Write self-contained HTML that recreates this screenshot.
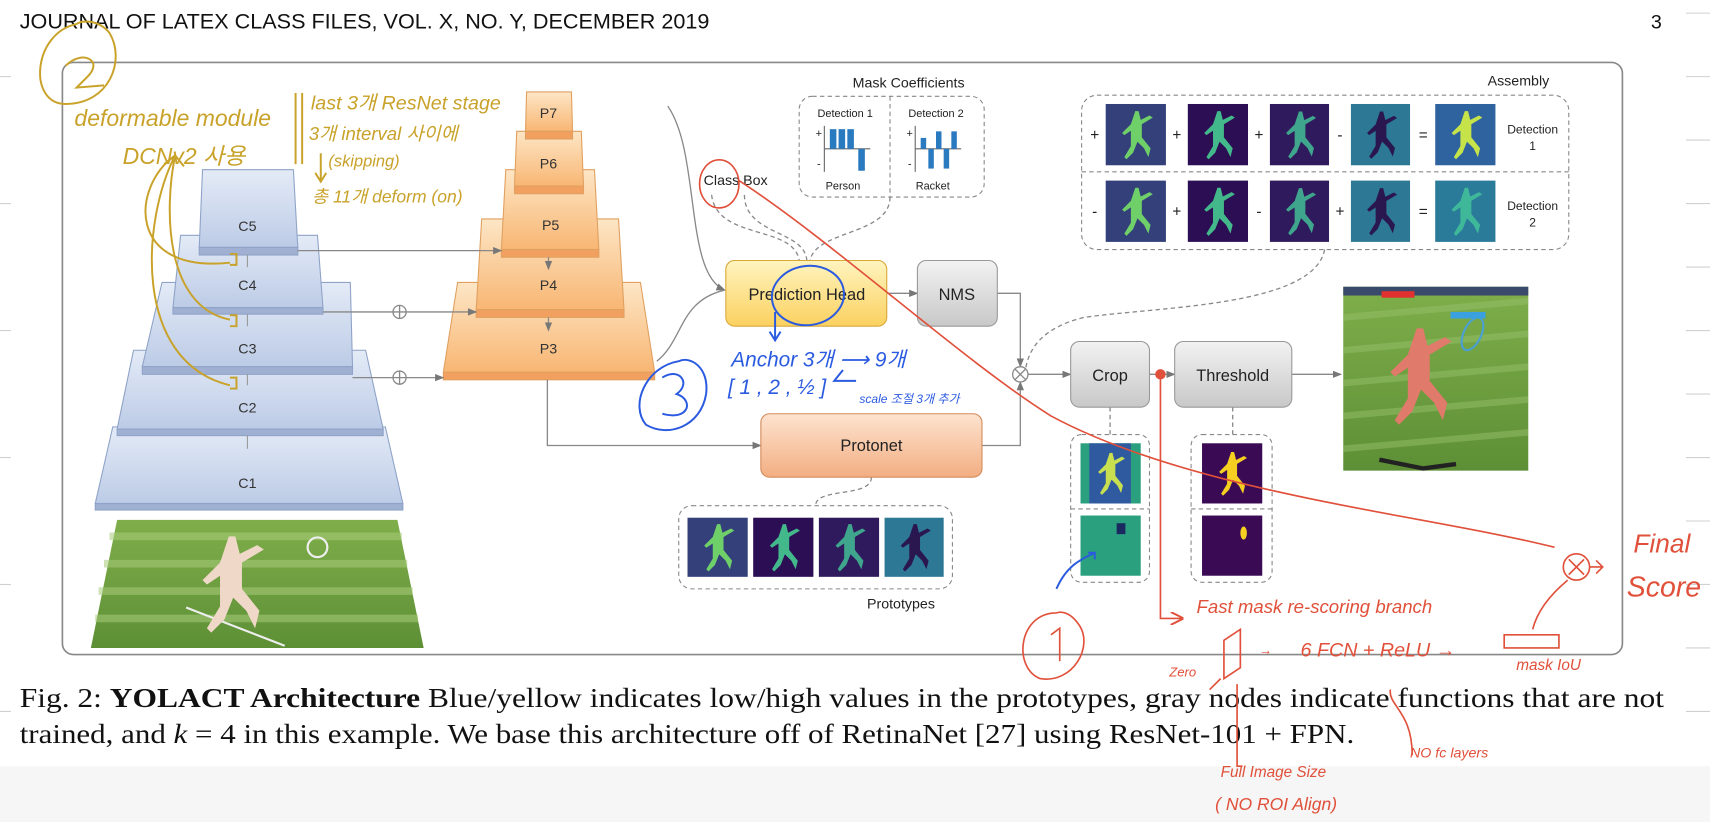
<!DOCTYPE html>
<html><head><meta charset="utf-8"><style>
html,body{margin:0;padding:0;background:#fff;}
svg{display:block;}
.hs{font-family:"Liberation Sans",sans-serif;}
.hw{font-family:"Liberation Sans","Noto Sans CJK KR",sans-serif;font-style:italic;}
.cap{font-family:"Liberation Serif",serif;}
</style></head><body>
<svg width="1710" height="822" viewBox="0 0 1562 751" preserveAspectRatio="none" xmlns="http://www.w3.org/2000/svg">
<defs>
<linearGradient id="blue" x1="0" y1="0" x2="0" y2="1"><stop offset="0" stop-color="#e4ebf7"/><stop offset="1" stop-color="#bccbe6"/></linearGradient>
<linearGradient id="org" x1="0" y1="0" x2="0" y2="1"><stop offset="0" stop-color="#fde6c6"/><stop offset="1" stop-color="#f8b673"/></linearGradient>
<linearGradient id="yel" x1="0" y1="0" x2="0" y2="1"><stop offset="0" stop-color="#fff4bf"/><stop offset="1" stop-color="#fbd160"/></linearGradient>
<linearGradient id="gry" x1="0" y1="0" x2="0" y2="1"><stop offset="0" stop-color="#f2f2f2"/><stop offset="1" stop-color="#c8c8c8"/></linearGradient>
<linearGradient id="pro" x1="0" y1="0" x2="0" y2="1"><stop offset="0" stop-color="#fde3cf"/><stop offset="1" stop-color="#f3ae82"/></linearGradient>
<linearGradient id="grass" x1="0" y1="0" x2="0" y2="1"><stop offset="0" stop-color="#7fae4a"/><stop offset="1" stop-color="#5d8f36"/></linearGradient>
<marker id="ar" viewBox="0 0 10 10" refX="9" refY="5" markerWidth="7" markerHeight="7" orient="auto"><path d="M0,1 L10,5 L0,9 z" fill="#777"/></marker>
<marker id="rar" viewBox="0 0 10 10" refX="9" refY="5" markerWidth="8" markerHeight="8" orient="auto"><path d="M0,0 L10,5 L0,10" fill="none" stroke="#e0503a" stroke-width="1.5"/></marker>
<symbol id="fig" viewBox="0 0 55 55"><path d="M27,6 l3,0 l2,8 l8,-4 l3,2 l-10,6 l0,12 l8,10 l-2,8 l-4,-8 l-6,-6 l-4,10 l-6,6 l-2,-2 l6,-10 l0,-14 l-6,4 l-2,-2 l8,-8 z" fill="currentColor"/></symbol>
</defs>
<rect x="0" y="0" width="1562" height="751" fill="#fff"/>
<rect x="0" y="700" width="1562" height="51" fill="#f6f6f6"/>
<g stroke="#d0d0d0" stroke-width="1">
<line x1="1540" y1="12" x2="1562" y2="12"/><line x1="1540" y1="70" x2="1562" y2="70"/><line x1="1540" y1="128" x2="1562" y2="128"/><line x1="1540" y1="186" x2="1562" y2="186"/><line x1="1540" y1="244" x2="1562" y2="244"/><line x1="1540" y1="302" x2="1562" y2="302"/><line x1="1540" y1="360" x2="1562" y2="360"/><line x1="1540" y1="418" x2="1562" y2="418"/><line x1="1540" y1="476" x2="1562" y2="476"/><line x1="1540" y1="534" x2="1562" y2="534"/><line x1="1540" y1="592" x2="1562" y2="592"/><line x1="1540" y1="650" x2="1562" y2="650"/>
<line x1="0" y1="70" x2="10" y2="70"/><line x1="0" y1="186" x2="10" y2="186"/><line x1="0" y1="302" x2="10" y2="302"/><line x1="0" y1="418" x2="10" y2="418"/><line x1="0" y1="534" x2="10" y2="534"/><line x1="0" y1="650" x2="10" y2="650"/>
</g>
<text x="18" y="26" class="hs" font-size="19" fill="#111" textLength="630" lengthAdjust="spacingAndGlyphs">JOURNAL OF LATEX CLASS FILES, VOL. X, NO. Y, DECEMBER 2019</text>
<text x="1508" y="26" class="hs" font-size="18" fill="#111">3</text>
<rect x="57" y="57" width="1425" height="541" rx="10" fill="none" stroke="#888" stroke-width="1.5"/>

<g stroke="#8fa3c8" stroke-width="1" fill="url(#blue)">
<path d="M103,390 L352,390 L368,460 L87,460 Z"/><rect x="87" y="460" width="281" height="6" fill="#9fb0d2"/>
<path d="M122,320 L334,320 L350,392 L107,392 Z"/><rect x="107" y="392" width="243" height="6" fill="#9fb0d2"/>
<path d="M148,258 L320,258 L322,335 L130,335 Z"/><rect x="130" y="335" width="192" height="7" fill="#9fb0d2"/>
<path d="M165,215 L290,215 L295,281 L158,281 Z"/><rect x="158" y="281" width="137" height="6" fill="#9fb0d2"/>
<path d="M185,155 L268,155 L272,226 L182,226 Z"/><rect x="182" y="226" width="90" height="7" fill="#9fb0d2"/>
</g>
<g class="hs" font-size="13" fill="#333" text-anchor="middle">
<text x="226" y="211">C5</text><text x="226" y="265">C4</text><text x="226" y="323">C3</text><text x="226" y="377">C2</text><text x="226" y="446">C1</text></g>
<g stroke="#999" stroke-width="1"><line x1="226" y1="233" x2="226" y2="244"/><line x1="226" y1="287" x2="226" y2="298"/><line x1="226" y1="342" x2="226" y2="352"/><line x1="226" y1="398" x2="226" y2="410"/></g>

<g stroke="#e0a060" stroke-width="1" fill="url(#org)">
<path d="M418,258 L585,258 L598,340 L405,340 Z"/><rect x="405" y="340" width="193" height="7" fill="#f2a060"/>
<path d="M440,200 L565,200 L570,283 L435,283 Z"/><rect x="435" y="283" width="135" height="7" fill="#f2a060"/>
<path d="M462,155 L543,155 L547,228 L458,228 Z"/><rect x="458" y="228" width="89" height="7" fill="#f2a060"/>
<path d="M472,120 L531,120 L533,170 L470,170 Z"/><rect x="470" y="170" width="63" height="7" fill="#f2a060"/>
<path d="M481,84 L522,84 L523,120 L480,120 Z"/><rect x="480" y="120" width="43" height="7" fill="#f2a060"/>
</g>
<g class="hs" font-size="13" fill="#333" text-anchor="middle">
<text x="501" y="108">P7</text><text x="501" y="154">P6</text><text x="503" y="210">P5</text><text x="501" y="265">P4</text><text x="501" y="323">P3</text></g>
<g stroke="#888" stroke-width="1.2" fill="none">
<line x1="501" y1="235" x2="501" y2="246" marker-end="url(#ar)"/><line x1="501" y1="290" x2="501" y2="302" marker-end="url(#ar)"/>
<line x1="272" y1="229" x2="458" y2="229" marker-end="url(#ar)"/>
<line x1="295" y1="285" x2="359" y2="285"/><line x1="371" y1="285" x2="435" y2="285" marker-end="url(#ar)"/>
<line x1="322" y1="345" x2="359" y2="345"/><line x1="371" y1="345" x2="405" y2="345" marker-end="url(#ar)"/>
<circle cx="365" cy="285" r="6"/><path d="M359,285 h12 M365,279 v12"/>
<circle cx="365" cy="345" r="6"/><path d="M359,345 h12 M365,339 v12"/>
<path d="M500,347 V407 H695" marker-end="url(#ar)"/>
<path d="M610,97 C640,140 625,250 662,265" marker-end="url(#ar)"/>
<path d="M600,330 C625,310 620,275 662,265"/>
<line x1="810" y1="268" x2="838" y2="268" marker-end="url(#ar)"/>
<path d="M911,268 H932 V335" marker-end="url(#ar)"/>
<path d="M897,407 H932 V349" marker-end="url(#ar)"/>
<circle cx="932" cy="342" r="7"/><path d="M927,337 l10,10 M937,337 l-10,10"/>
<line x1="939" y1="342" x2="978" y2="342" marker-end="url(#ar)"/>
<line x1="1050" y1="342" x2="1073" y2="342" marker-end="url(#ar)"/>
<line x1="1180" y1="342" x2="1225" y2="342" marker-end="url(#ar)"/>
</g>
<g stroke="#888" stroke-width="1.2" fill="none" stroke-dasharray="4,3">
<path d="M1210,228 C1200,280 1060,280 990,290 C950,300 940,320 937,336"/>
<path d="M796,436 C796,455 745,445 745,462"/>
<path d="M1014,372 V397"/><path d="M1126,372 V397"/>
<path d="M680,178 C680,215 735,210 737,238"/><path d="M650,178 C655,220 725,205 730,238"/>
<path d="M813,180 C813,215 745,210 740,238"/>
</g>

<rect x="663" y="238" width="147" height="60" rx="8" fill="url(#yel)" stroke="#d8a838"/>
<text x="737" y="274" class="hs" font-size="15" fill="#222" text-anchor="middle">Prediction Head</text>
<rect x="838" y="238" width="73" height="60" rx="8" fill="url(#gry)" stroke="#999"/>
<text x="874" y="274" class="hs" font-size="15" fill="#222" text-anchor="middle">NMS</text>
<rect x="695" y="378" width="202" height="58" rx="8" fill="url(#pro)" stroke="#d38c5a"/>
<text x="796" y="412" class="hs" font-size="15" fill="#222" text-anchor="middle">Protonet</text>
<rect x="978" y="312" width="72" height="60" rx="8" fill="url(#gry)" stroke="#999"/>
<text x="1014" y="348" class="hs" font-size="15" fill="#222" text-anchor="middle">Crop</text>
<rect x="1073" y="312" width="107" height="60" rx="8" fill="url(#gry)" stroke="#999"/>
<text x="1126" y="348" class="hs" font-size="15" fill="#222" text-anchor="middle">Threshold</text>

<text x="830" y="80" class="hs" font-size="13" fill="#222" text-anchor="middle">Mask Coefficients</text>
<rect x="730" y="88" width="169" height="92" rx="12" fill="#fff" stroke="#888" stroke-dasharray="4,3"/>
<line x1="813" y1="88" x2="813" y2="180" stroke="#888" stroke-dasharray="4,3"/>
<g class="hs" font-size="10" fill="#222" text-anchor="middle"><text x="772" y="107">Detection 1</text><text x="855" y="107">Detection 2</text><text x="770" y="173">Person</text><text x="852" y="173">Racket</text>
<text x="748" y="125">+</text><text x="748" y="153">-</text><text x="831" y="125">+</text><text x="831" y="153">-</text></g>
<g stroke="#666" stroke-width="1"><path d="M753,115 V157 M753,136 H795"/><path d="M836,115 V157 M836,136 H878"/></g>
<g fill="#2a7ac0"><rect x="758" y="118" width="6" height="18"/><rect x="766" y="118" width="6" height="18"/><rect x="774" y="118" width="6" height="18"/><rect x="784" y="136" width="6" height="20"/>
<rect x="841" y="126" width="5" height="10"/><rect x="848" y="136" width="5" height="18"/><rect x="855" y="120" width="5" height="16"/><rect x="862" y="136" width="5" height="18"/><rect x="869" y="120" width="5" height="16"/></g>
<text x="672" y="169" class="hs" font-size="13" fill="#222" text-anchor="middle">Class  Box</text>

<text x="1387" y="78" class="hs" font-size="13" fill="#222" text-anchor="middle">Assembly</text>
<rect x="988" y="87" width="445" height="141" rx="14" fill="#fff" stroke="#888" stroke-dasharray="4,3"/>
<line x1="988" y1="157" x2="1433" y2="157" stroke="#888" stroke-dasharray="4,3"/>
<g>
<rect x="1010" y="95" width="55" height="56" fill="#33407a"/><use href="#fig" x="1010" y="95" width="55" height="56" color="#6fd06a"/>
<rect x="1085" y="95" width="55" height="56" fill="#2c0e55"/><use href="#fig" x="1085" y="95" width="55" height="56" color="#43b88a"/>
<rect x="1160" y="95" width="54" height="56" fill="#2e1a5c"/><use href="#fig" x="1160" y="95" width="54" height="56" color="#3fa58c"/>
<rect x="1234" y="95" width="54" height="56" fill="#2c7895"/><use href="#fig" x="1234" y="95" width="54" height="56" color="#2a1750"/>
<rect x="1311" y="95" width="55" height="56" fill="#2f63a0"/><use href="#fig" x="1311" y="95" width="55" height="56" color="#c6e44a"/>
<rect x="1010" y="165" width="55" height="56" fill="#33407a"/><use href="#fig" x="1010" y="165" width="55" height="56" color="#6fd06a"/>
<rect x="1085" y="165" width="55" height="56" fill="#2c0e55"/><use href="#fig" x="1085" y="165" width="55" height="56" color="#43b88a"/>
<rect x="1160" y="165" width="54" height="56" fill="#2e1a5c"/><use href="#fig" x="1160" y="165" width="54" height="56" color="#3fa58c"/>
<rect x="1234" y="165" width="54" height="56" fill="#2c7895"/><use href="#fig" x="1234" y="165" width="54" height="56" color="#2a1750"/>
<rect x="1311" y="165" width="55" height="56" fill="#2a7a9a"/><use href="#fig" x="1311" y="165" width="55" height="56" color="#3fb89a"/>
</g>
<g class="hs" font-size="14" fill="#222" text-anchor="middle">
<text x="1000" y="128">+</text><text x="1075" y="128">+</text><text x="1150" y="128">+</text><text x="1224" y="128">-</text><text x="1300" y="128">=</text>
<text x="1000" y="198">-</text><text x="1075" y="198">+</text><text x="1150" y="198">-</text><text x="1224" y="198">+</text><text x="1300" y="198">=</text>
<text x="1400" y="122" font-size="11">Detection</text><text x="1400" y="137" font-size="11">1</text>
<text x="1400" y="192" font-size="11">Detection</text><text x="1400" y="207" font-size="11">2</text></g>

<rect x="1227" y="262" width="169" height="168" fill="url(#grass)"/>
<g stroke="#96c06a" stroke-width="6" opacity="0.5"><line x1="1227" y1="290" x2="1396" y2="275"/><line x1="1227" y1="320" x2="1396" y2="305"/><line x1="1227" y1="350" x2="1396" y2="335"/><line x1="1227" y1="380" x2="1396" y2="365"/><line x1="1227" y1="410" x2="1396" y2="395"/></g>
<rect x="1227" y="262" width="169" height="8" fill="#3a4a6a"/>
<use href="#fig" x="1240" y="268" width="110" height="150" color="#e07a6a"/>
<ellipse cx="1345" cy="305" rx="8" ry="16" fill="none" stroke="#4aa0d0" stroke-width="2" transform="rotate(25 1345 305)"/>
<rect x="1262" y="266" width="30" height="6" fill="#e03030"/><rect x="1325" y="285" width="32" height="6" fill="#3aa0e0"/>
<path d="M1260,420 l40,8 l30,-4" stroke="#222" stroke-width="4" fill="none"/>

<rect x="620" y="462" width="250" height="76" rx="12" fill="#fff" stroke="#888" stroke-dasharray="4,3"/>
<rect x="628" y="473" width="55" height="54" fill="#33407a"/><use href="#fig" x="628" y="473" width="55" height="54" color="#6fd06a"/>
<rect x="688" y="473" width="55" height="54" fill="#2c0e55"/><use href="#fig" x="688" y="473" width="55" height="54" color="#43b88a"/>
<rect x="748" y="473" width="55" height="54" fill="#2e1a5c"/><use href="#fig" x="748" y="473" width="55" height="54" color="#3fa58c"/>
<rect x="808" y="473" width="54" height="54" fill="#2c7895"/><use href="#fig" x="808" y="473" width="54" height="54" color="#2a1750"/>
<text x="823" y="556" class="hs" font-size="13" fill="#222" text-anchor="middle">Prototypes</text>

<rect x="978" y="397" width="72" height="135" rx="10" fill="#fff" stroke="#888" stroke-dasharray="4,3"/>
<line x1="978" y1="465" x2="1050" y2="465" stroke="#888" stroke-dasharray="4,3"/>
<rect x="987" y="405" width="55" height="55" fill="#2aa07e"/><rect x="995" y="405" width="38" height="55" fill="#2f5aa0"/><use href="#fig" x="990" y="405" width="48" height="55" color="#c8e050"/>
<rect x="987" y="471" width="55" height="55" fill="#2aa07e"/><rect x="1020" y="478" width="8" height="10" fill="#1a2a60"/>
<rect x="1088" y="397" width="74" height="135" rx="10" fill="#fff" stroke="#888" stroke-dasharray="4,3"/>
<line x1="1088" y1="465" x2="1162" y2="465" stroke="#888" stroke-dasharray="4,3"/>
<rect x="1098" y="405" width="55" height="55" fill="#3a0a55"/><use href="#fig" x="1100" y="405" width="50" height="55" color="#f5d020"/>
<rect x="1098" y="471" width="55" height="55" fill="#3a0a55"/><ellipse cx="1136" cy="487" rx="3" ry="6" fill="#f5d020"/>

<path d="M107,475 L363,475 L387,592 L83,592 Z" fill="url(#grass)"/>
<g stroke="#a8cc7a" stroke-width="7" opacity="0.55"><line x1="100" y1="490" x2="367" y2="490"/><line x1="95" y1="515" x2="372" y2="515"/><line x1="90" y1="540" x2="377" y2="540"/><line x1="87" y1="565" x2="382" y2="565"/></g>
<path d="M170,555 L260,590" stroke="#eee" stroke-width="2"/>
<use href="#fig" x="150" y="478" width="120" height="110" color="#f0d8c8"/>
<circle cx="290" cy="500" r="9" fill="none" stroke="#eee" stroke-width="2"/>

<text x="18" y="646" class="cap" font-size="25" fill="#111" textLength="1502" lengthAdjust="spacingAndGlyphs">Fig. 2: <tspan font-weight="bold">YOLACT Architecture</tspan>   Blue/yellow indicates low/high values in the prototypes, gray nodes indicate functions that are not</text>
<text x="18" y="679" class="cap" font-size="25" fill="#111" textLength="1219" lengthAdjust="spacingAndGlyphs">trained, and <tspan font-style="italic">k</tspan> = 4 in this example. We base this architecture off of RetinaNet [27] using ResNet-101 + FPN.</text>

<g fill="none" stroke="#c9a22a" stroke-width="1.8">
<path d="M70,22 C30,30 25,95 60,95 C100,95 115,55 100,30 C90,18 75,18 70,22"/>
<path d="M60,60 C75,45 95,55 80,70 L70,80 L95,78"/>
<path d="M160,142 C120,170 115,250 210,240 M160,142 C150,190 150,280 210,292 M160,142 C130,200 120,330 210,352"/>
<path d="M150,150 L160,142 L168,152"/>
<path d="M210,232 h6 v10 h-6 M210,288 h6 v10 h-6 M210,345 h6 v10 h-6"/>
<path d="M270,85 V150 M276,85 V150"/>
<path d="M293,140 V165 M288,158 l5,8 l5,-8"/>
</g>
<g class="hw" fill="#c9a22a" font-size="21">
<text x="68" y="115">deformable  module</text>
<text x="112" y="150">DCNv2 사용</text>
<text x="284" y="100" font-size="18">last 3개 ResNet stage</text>
<text x="282" y="128" font-size="17">3개 interval 사이에</text>
<text x="300" y="152" font-size="15">(skipping)</text>
<text x="285" y="185" font-size="16">총 11개 deform (on)</text>
</g>

<g fill="none" stroke="#2a5ae0" stroke-width="1.8">
<ellipse cx="738" cy="270" rx="33" ry="27" transform="rotate(-8 738 270)"/>
<path d="M708,285 V310 M703,303 l5,8 l5,-8"/>
<path d="M620,330 C590,335 575,370 590,388 C610,400 640,390 645,360 C648,335 630,325 620,330"/>
<path d="M605,345 C620,335 632,350 618,360 C634,365 630,385 605,378"/>
<path d="M770,338 l-8,10 h20 M965,538 C975,515 990,510 1000,505 M994,505 h6 v6"/>
</g>
<g class="hw" fill="#2a5ae0">
<text x="668" y="335" font-size="19">Anchor 3개 ⟶ 9개</text>
<text x="665" y="360" font-size="19">[ 1 , 2 , ½ ]</text>
<text x="785" y="368" font-size="11">scale 조절 3개 추가</text>
</g>

<g fill="none" stroke="#e0503a" stroke-width="1.5">
<ellipse cx="657" cy="168" rx="18" ry="22"/>
<path d="M675,165 C760,220 880,330 960,380 C1090,450 1300,470 1420,500"/>
<circle cx="1440" cy="518" r="12"/><path d="M1433,511 l14,14 M1447,511 l-14,14"/>
<path d="M1452,518 h12 M1458,512 l6,6 l-6,6"/>
<path d="M1400,575 C1405,555 1420,540 1432,530"/>
<circle cx="1060" cy="342" r="4" fill="#e0503a"/>
<path d="M1060,346 V565 H1080" marker-end="url(#rar)"/>
<path d="M965,560 C930,560 925,610 950,620 C980,625 1000,590 985,570 C978,560 970,558 965,560"/>
<path d="M960,580 l8,-6 v30"/>
<path d="M1118,585 l15,-10 v35 l-15,10 z"/>
<path d="M1115,620 l-10,10 M1130,625 V700 H1135"/>
<path d="M1270,630 C1268,645 1290,650 1290,690"/>
<path d="M1374,580 h50 v12 h-50 z"/>
</g>
<g class="hw" fill="#e0503a">
<text x="1492" y="505" font-size="24">Final</text>
<text x="1486" y="545" font-size="26">Score</text>
<text x="1093" y="560" font-size="17">Fast  mask  re-scoring  branch</text>
<text x="1150" y="598" font-size="12">→</text>
<text x="1188" y="600" font-size="18">6  FCN + ReLU →</text>
<text x="1385" y="612" font-size="14">mask IoU</text>
<text x="1068" y="618" font-size="12">Zero</text>
<text x="1115" y="710" font-size="14">Full Image Size</text>
<text x="1110" y="740" font-size="16">( NO  ROI  Align)</text>
<text x="1288" y="692" font-size="13">NO fc layers</text>
</g>
</svg>
</body></html>
